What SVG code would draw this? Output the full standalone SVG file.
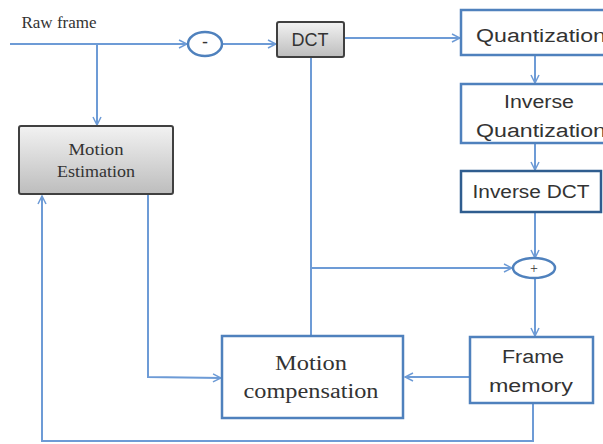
<svg xmlns="http://www.w3.org/2000/svg" width="603" height="444" viewBox="0 0 603 444">
<defs>
<linearGradient id="gray" x1="0" y1="0" x2="0" y2="1">
<stop offset="0" stop-color="#f2f2f2"/>
<stop offset="1" stop-color="#bdbdbd"/>
</linearGradient>
<marker id="arr" viewBox="0 0 10 10" refX="9" refY="5" markerWidth="10" markerHeight="10" markerUnits="userSpaceOnUse" orient="auto">
<polyline points="1,1 9,5 1,9" fill="none" stroke="#6d9bd6" stroke-width="1.5"/>
</marker>
<style>
.c{fill:none;stroke:#6d9bd6;stroke-width:2}
.bx{fill:#fff;stroke:#4f81bd;stroke-width:2.5}
.gb{fill:url(#gray);stroke:#404040;stroke-width:2}
.s{font-family:"Liberation Sans",Arial,sans-serif;font-size:18px;fill:#333;text-anchor:middle}
.r{font-family:"Liberation Serif","Times New Roman",serif;fill:#333;text-anchor:middle}
.el{fill:#fff;stroke:#4f81bd;stroke-width:2.5}
</style>
</defs>
<rect width="603" height="444" fill="#fff"/>
<g id="connectors">
<line class="c" x1="10" y1="44" x2="187" y2="44" marker-end="url(#arr)"/>
<line class="c" x1="97" y1="44" x2="97" y2="125" marker-end="url(#arr)"/>
<line class="c" x1="223" y1="44" x2="276" y2="44" marker-end="url(#arr)"/>
<line class="c" x1="345" y1="38" x2="460" y2="38" marker-end="url(#arr)"/>
<line class="c" x1="535" y1="56" x2="535" y2="83" marker-end="url(#arr)"/>
<line class="c" x1="535" y1="144" x2="535" y2="170" marker-end="url(#arr)"/>
<line class="c" x1="535" y1="213" x2="535" y2="258" marker-end="url(#arr)"/>
<polyline class="c" points="311,57 311,336"/>
<line class="c" x1="311" y1="268" x2="512" y2="268" marker-end="url(#arr)"/>
<line class="c" x1="535" y1="278" x2="535" y2="336" marker-end="url(#arr)"/>
<line class="c" x1="470" y1="377" x2="405" y2="377" marker-end="url(#arr)"/>
<polyline class="c" points="148,195 148,377 221,378" marker-end="url(#arr)"/>
<polyline class="c" points="533,404 533,441 42,441 42,196" marker-end="url(#arr)"/>
</g>
<g id="raw-frame">
<text class="r" x="59" y="28" font-size="17">Raw frame</text>
</g>
<g id="subtract">
<ellipse class="el" cx="205" cy="44" rx="17" ry="12"/>
<text class="s" x="205" y="48" font-size="14">-</text>
</g>
<g id="dct">
<rect class="gb" x="277" y="22" width="67" height="35" rx="2"/>
<text class="s" x="310" y="46">DCT</text>
</g>
<g id="quantization">
<rect class="bx" x="461" y="10" width="146" height="45"/>
<text class="s" x="541" y="42" textLength="130" lengthAdjust="spacingAndGlyphs">Quantization</text>
</g>
<g id="inverse-quantization">
<rect class="bx" x="461" y="84" width="146" height="59"/>
<text class="s" x="539" y="108" textLength="70" lengthAdjust="spacingAndGlyphs">Inverse</text>
<text class="s" x="541" y="137" textLength="130" lengthAdjust="spacingAndGlyphs">Quantization</text>
</g>
<g id="inverse-dct">
<rect x="461" y="171" width="140" height="41" fill="#fff" stroke="#2f5d8f" stroke-width="2.5"/>
<text class="s" x="531" y="198" textLength="117" lengthAdjust="spacingAndGlyphs">Inverse DCT</text>
</g>
<g id="add">
<ellipse class="el" cx="534" cy="268" rx="21" ry="10"/>
<text class="r" x="534" y="273" font-size="14">+</text>
</g>
<g id="motion-estimation">
<rect class="gb" x="19" y="126" width="154" height="68" rx="2"/>
<text class="r" x="96" y="155" font-size="16" textLength="55" lengthAdjust="spacingAndGlyphs">Motion</text>
<text class="r" x="96" y="177" font-size="16" textLength="78" lengthAdjust="spacingAndGlyphs">Estimation</text>
</g>
<g id="motion-compensation">
<rect class="bx" x="222" y="336" width="181" height="82"/>
<text class="r" x="311" y="370" font-size="20" textLength="72" lengthAdjust="spacingAndGlyphs">Motion</text>
<text class="r" x="311" y="398" font-size="20" textLength="135" lengthAdjust="spacingAndGlyphs">compensation</text>
</g>
<g id="frame-memory">
<rect class="bx" x="470" y="337" width="123" height="66"/>
<text class="s" x="533" y="363" textLength="62" lengthAdjust="spacingAndGlyphs">Frame</text>
<text class="s" x="531" y="392" textLength="84" lengthAdjust="spacingAndGlyphs">memory</text>
</g>
</svg>
